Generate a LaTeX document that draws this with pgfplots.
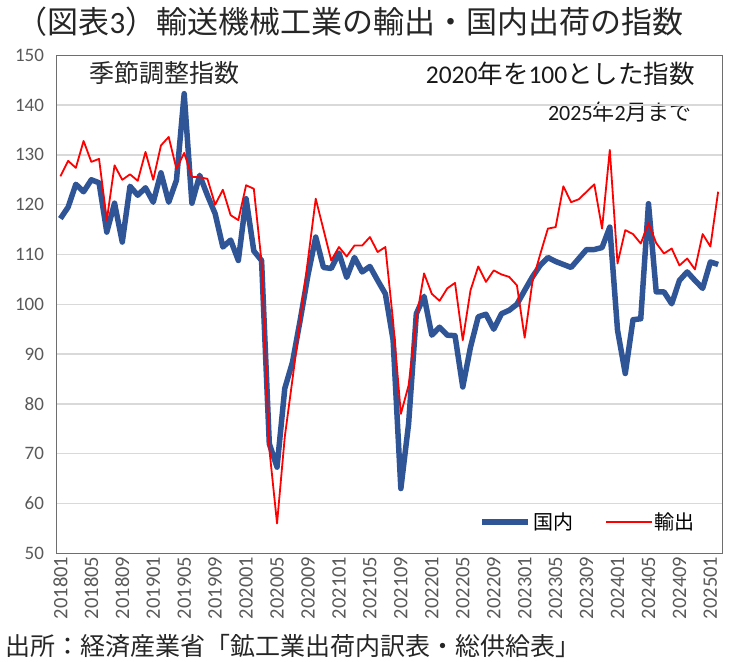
\documentclass[border=0pt]{standalone}
\usepackage{pgfplots}
\pgfplotsset{compat=1.18}
\usepackage{pgfplotstable}
\usepackage{fontspec}
\setmainfont{Carlito}
\newfontfamily\jp{Noto Sans CJK JP}

\definecolor{domblue}{RGB}{47,85,151}
\definecolor{expred}{RGB}{255,0,0}
\definecolor{gridgray}{RGB}{217,217,217}
\definecolor{txtgray}{RGB}{89,89,89}
\definecolor{framegray}{RGB}{110,110,110}

% Monthly indices, 2018/01 (m=0) to 2025/02 (m=85), 2020=100, seasonally adjusted
\pgfplotstableread{
m dom exp
0 117.2 125.7
1 119.5 128.8
2 124.1 127.4
3 122.6 132.8
4 125.0 128.6
5 124.4 129.2
6 114.5 116.9
7 120.3 127.9
8 112.5 125.0
9 123.7 126.1
10 121.9 124.8
11 123.4 130.6
12 120.5 125.0
13 126.4 131.9
14 120.5 133.6
15 124.9 127.2
16 142.3 130.4
17 120.3 125.6
18 125.9 125.5
19 121.9 125.2
20 118.2 120.0
21 111.5 123.0
22 112.9 117.9
23 108.8 116.9
24 121.2 123.9
25 110.7 123.2
26 108.8 108.5
27 72.0 71.0
28 67.3 56.0
29 83.1 73.4
30 88.4 85.0
31 96.9 97.0
32 105.9 109.0
33 113.5 121.2
34 107.4 115.0
35 107.2 108.8
36 110.3 111.5
37 105.4 109.6
38 109.4 111.8
39 106.5 111.8
40 107.6 113.5
41 104.8 110.5
42 102.1 111.5
43 92.8 96.5
44 63.0 78.0
45 76.0 83.7
46 98.1 97.0
47 101.6 106.2
48 93.8 102.1
49 95.4 100.7
50 93.8 103.2
51 93.7 104.3
52 83.4 92.8
53 91.4 102.8
54 97.5 107.6
55 98.0 104.5
56 95.0 106.8
57 98.1 106.0
58 98.8 105.5
59 100.0 103.8
60 102.8 93.3
61 105.5 104.5
62 107.8 110.0
63 109.4 115.2
64 108.6 115.5
65 108.0 123.7
66 107.4 120.5
67 109.2 121.1
68 111.0 122.6
69 111.0 124.1
70 111.4 115.2
71 115.5 131.0
72 94.8 108.2
73 86.1 114.9
74 96.9 114.1
75 97.1 112.2
76 120.2 116.3
77 102.5 112.3
78 102.5 110.2
79 100.1 111.2
80 104.8 107.8
81 106.5 109.2
82 104.8 107.0
83 103.2 114.1
84 108.5 111.6
85 108.0 122.6
}\indexdata

\begin{document}
\begin{tikzpicture}
\useasboundingbox (0,0) rectangle (732bp,662bp);

% title, notes and source
\node[font=\fontsize{31bp}{36bp}\selectfont, text=black!85] at (350bp,640bp)
  {{\jp （図表}3{\jp ）輸送機械工業の輸出・国内出荷の指数}};
\node[font=\fontsize{25bp}{29bp}\selectfont, text=black!85] at (164bp,589bp)
  {\jp 季節調整指数};
\node[font=\fontsize{25.5bp}{29bp}\selectfont, text=black!90, anchor=east, inner sep=0pt] at (695bp,588bp)
  {2020{\jp 年を}100{\jp とした指数}};
\node[font=\fontsize{22bp}{26bp}\selectfont, text=black!90, anchor=east, inner sep=0pt] at (692bp,550bp)
  {2025{\jp 年}2{\jp 月まで}};
\node[font=\fontsize{25bp}{29bp}\selectfont, text=black!85, anchor=west, inner sep=0pt] at (5bp,16bp)
  {\jp 出所：経済産業省「鉱工業出荷内訳表・総供給表」};

\begin{axis}[
  at={(56.5bp,108.7bp)}, anchor=south west,
  scale only axis,
  width=665.5bp, height=498bp,
  xmin=-0.5, xmax=85.5,
  ymin=50, ymax=150,
  ytick={50,60,...,150},
  xtick={0,4,...,84},
  xticklabels={201801,201805,201809,201901,201905,201909,202001,202005,202009,202101,202105,202109,202201,202205,202209,202301,202305,202309,202401,202405,202409,202501},
  major tick length=0pt,
  /pgf/number format/assume math mode=true,
  yticklabel style={font=\fontsize{19bp}{21bp}\selectfont, text=txtgray, xshift=-9bp},
  xticklabel style={font=\fontsize{20.5bp}{22bp}\selectfont, text=txtgray, rotate=90, anchor=east},
  ymajorgrids,
  major grid style={draw=gridgray, line width=1.3bp},
  axis line style={draw=framegray, line width=1bp},
  legend columns=2,
  legend style={draw=none, fill=none, at={(0.967,0.063)}, anchor=east,
    font=\fontsize{20bp}{22bp}\selectfont\jp,
    /tikz/every even column/.append style={column sep=30bp}},
  legend image code/.code={\draw[#1] (0bp,0bp) -- (46bp,0bp);},
]
\addplot[domblue, line width=5.5bp, line join=round] table[x=m, y=dom] {\indexdata};
\addlegendentry{国内}
\addplot[expred, line width=1.8bp, line join=round] table[x=m, y=exp] {\indexdata};
\addlegendentry{輸出}
\end{axis}
\end{tikzpicture}
\end{document}
